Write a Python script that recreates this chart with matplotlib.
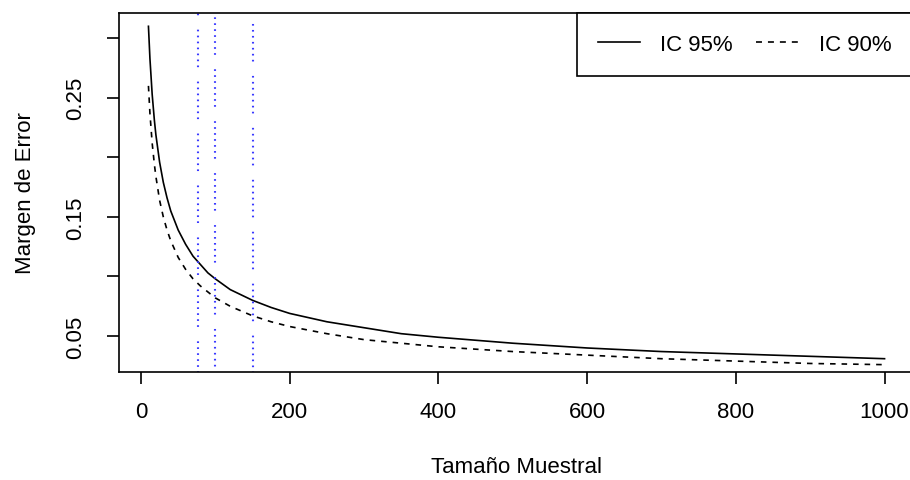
"""
Margen de error vs tamaño muestral (IC 95% / IC 90%)
"""

import matplotlib

matplotlib.use("Agg")
import matplotlib.pyplot as plt
from matplotlib.lines import Line2D

# ---- data ----
tamano = [10, 12, 15, 18, 20, 25, 30, 35, 40, 50, 60, 70, 80, 90, 100,
          120, 150, 175, 200, 250, 300, 350, 400, 500, 600, 700, 800, 900, 1000]
margen_95 = [0.310, 0.283, 0.253, 0.231, 0.219, 0.196, 0.179, 0.166, 0.155,
             0.139, 0.127, 0.117, 0.110, 0.103, 0.098, 0.089, 0.080, 0.074,
             0.069, 0.062, 0.057, 0.052, 0.049, 0.044, 0.040, 0.037, 0.035,
             0.033, 0.031]
margen_90 = [0.260, 0.237, 0.212, 0.194, 0.184, 0.164, 0.150, 0.139, 0.130,
             0.116, 0.106, 0.098, 0.092, 0.087, 0.082, 0.075, 0.067, 0.062,
             0.058, 0.052, 0.047, 0.044, 0.041, 0.037, 0.034, 0.031, 0.029,
             0.027, 0.026]
lineas_ref = [77, 100, 150]
leyenda = ["IC 95%", "IC 90%"]
x_ticks = [0, 200, 400, 600, 800, 1000]
y_ticks = [0.05, 0.10, 0.15, 0.20, 0.25, 0.30]
y_tick_labels = ["0.05", "", "0.15", "", "0.25", ""]

plt.rcParams["font.family"] = ["Liberation Sans", "DejaVu Sans"]
plt.rcParams["lines.scale_dashes"] = False
FS = 16

fig = plt.figure(figsize=(9.10, 4.81), dpi=100)
# right edge sits just outside the image, as in the cropped original
ax = fig.add_axes([119 / 910, 108 / 481, 795 / 910, 359 / 481])

# R-style limits: 4% padding around the IC 95% curve
x_rng = max(tamano) - min(tamano)
y_rng = max(margen_95) - min(margen_95)
ax.set_xlim(min(tamano) - 0.04 * x_rng, max(tamano) + 0.04 * x_rng)
ax.set_ylim(min(margen_95) - 0.04 * y_rng, max(margen_95) + 0.04 * y_rng)

# Curves
dash = (0, (4.0, 4.3))
ax.plot(tamano, margen_95, color="black", lw=1.2)
ax.plot(tamano, margen_90, color="black", lw=1.2, linestyle=dash)

# Blue dotted reference lines (drawn top -> bottom)
dot_pat = (1.2, 3.1) * 6 + (1.2, 10.4)
offsets = [25.4, 34.3, 29.5]
y0, y1 = ax.get_ylim()
for v, off in zip(lineas_ref, offsets):
    ax.plot([v, v], [y1, y0], color="#3a3aff", lw=1.5,
            linestyle=(off, dot_pat))

# Axes styling
for side in ["top", "right", "left", "bottom"]:
    ax.spines[side].set_linewidth(1.2)
ax.set_xticks(x_ticks)
ax.set_yticks(y_ticks)
ax.set_yticklabels(y_tick_labels)
ax.tick_params(axis="both", direction="out", length=8.6, width=1.2,
               labelsize=FS)
ax.tick_params(axis="x", pad=12)
ax.tick_params(axis="y", pad=15, labelrotation=90)
for lab in ax.get_yticklabels():
    lab.set_va("center")

ax.set_xlabel("Tamaño Muestral", fontsize=FS, va="center")
ax.xaxis.set_label_coords(0.5, -0.262)
ax.set_ylabel("Margen de Error", fontsize=FS, va="center")
ax.yaxis.set_label_coords(-0.118, 0.5)

# Legend (horizontal, top right)
handles = [Line2D([], [], color="black", lw=1.2),
           Line2D([], [], color="black", lw=1.2, linestyle=(0, (4.3, 4.3)))]
leg = ax.legend(handles, leyenda, loc="upper left",
                bbox_to_anchor=((577 - 119) / 795, 1.0), ncol=2,
                fontsize=FS, frameon=True, fancybox=False, framealpha=1,
                edgecolor="black", borderaxespad=0, borderpad=0.95,
                handlelength=1.9, handletextpad=0.9, columnspacing=1.05)
leg.get_frame().set_linewidth(1.2)

fig.savefig("out.png", dpi=100)
